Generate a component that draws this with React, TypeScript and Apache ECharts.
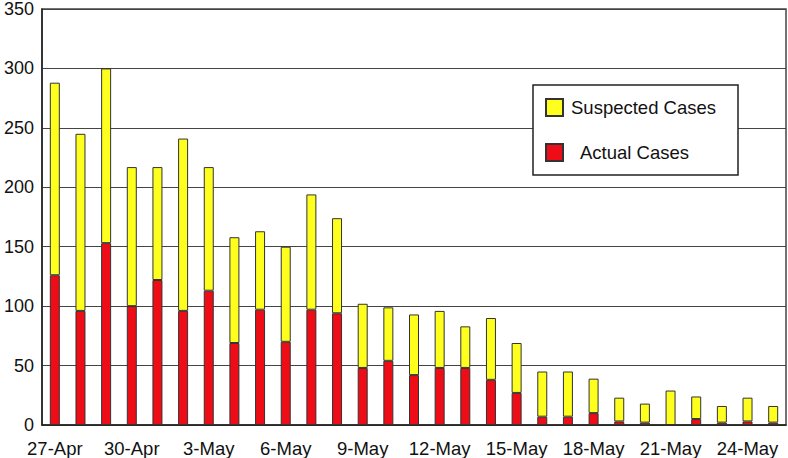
import React, { useEffect, useRef } from "react";
import * as echarts from "echarts";

const categories = [
  "27-Apr", "28-Apr", "29-Apr", "30-Apr", "1-May", "2-May", "3-May", "4-May",
  "5-May", "6-May", "7-May", "8-May", "9-May", "10-May", "11-May", "12-May",
  "13-May", "14-May", "15-May", "16-May", "17-May", "18-May", "19-May", "20-May",
  "21-May", "22-May", "23-May", "24-May", "25-May",
];

const actualCases = [
  126, 96, 153, 100, 122, 96, 113, 69, 97, 70, 97, 94, 48, 54, 42, 48,
  48, 38, 27, 7, 7, 10, 3, 2, 0, 5, 2, 3, 2,
];

const suspectedCases = [
  162, 149, 147, 117, 95, 145, 104, 89, 66, 80, 97, 80, 54, 45, 51, 48,
  35, 52, 42, 38, 38, 29, 20, 16, 29, 19, 14, 20, 14,
];

const FONT = "Liberation Sans, Arial, Helvetica, sans-serif";

export default function App() {
  const ref = useRef<HTMLDivElement>(null);
  useEffect(() => {
    document.body.style.margin = "0";
    const chart = echarts.init(ref.current!, null, { renderer: "svg" });
    chart.setOption({
      animation: false,
      backgroundColor: "#ffffff",
      textStyle: { fontFamily: FONT },
      grid: {
        left: 42,
        right: 2,
        top: 7,
        bottom: 33,
        show: true,
        borderColor: "#444",
        borderWidth: 1.5,
        backgroundColor: "transparent",
      },
      legend: {
        orient: "vertical",
        left: 533,
        top: 85,
        padding: [13, 22, 13, 12],
        itemWidth: 17,
        itemHeight: 17,
        itemGap: 26,
        backgroundColor: "#ffffff",
        borderColor: "#222",
        borderWidth: 1.5,
        borderRadius: 0,
        icon: "rect",
        data: ["Suspected Cases", "Actual Cases"],
        formatter: (name: string) =>
          name === "Actual Cases" ? "{b|" + name + "}" : "{a|" + name + "}",
        textStyle: {
          fontSize: 18,
          color: "#111",
          fontFamily: FONT,
          rich: {
            a: { fontSize: 18.5, fontFamily: FONT, color: "#111", padding: [0, 0, 0, 3] },
            b: { fontSize: 18.5, fontFamily: FONT, color: "#111", padding: [0, 0, 0, 12] },
          },
        },
      },
      xAxis: {
        type: "category",
        data: categories,
        boundaryGap: true,
        axisLine: { lineStyle: { color: "#222", width: 1.5 } },
        axisTick: { show: false },
        axisLabel: {
          interval: 2,
          fontSize: 18.5,
          color: "#111",
          margin: 14,
          fontFamily: FONT,
        },
        splitLine: { show: false },
      },
      yAxis: {
        type: "value",
        min: 0,
        max: 350,
        interval: 50,
        axisLine: { show: true, lineStyle: { color: "#222", width: 1.5 } },
        axisTick: { show: false },
        axisLabel: { fontSize: 18, color: "#111", margin: 8, fontFamily: FONT },
        splitLine: { lineStyle: { color: "#444", width: 1 } },
      },
      series: [
        {
          name: "Actual Cases",
          type: "bar",
          stack: "cases",
          barWidth: 10,
          data: actualCases,
          itemStyle: { color: "#ee0d16", borderColor: "#333", borderWidth: 1 },
        },
        {
          name: "Suspected Cases",
          type: "bar",
          stack: "cases",
          barWidth: 10,
          data: suspectedCases,
          itemStyle: { color: "#ffff1e", borderColor: "#333", borderWidth: 1 },
        },
      ],
    });
    return () => chart.dispose();
  }, []);
  return (
    <div
      ref={ref}
      style={{ position: "fixed", left: 0, top: 0, width: 788, height: 458 }}
    />
  );
}
